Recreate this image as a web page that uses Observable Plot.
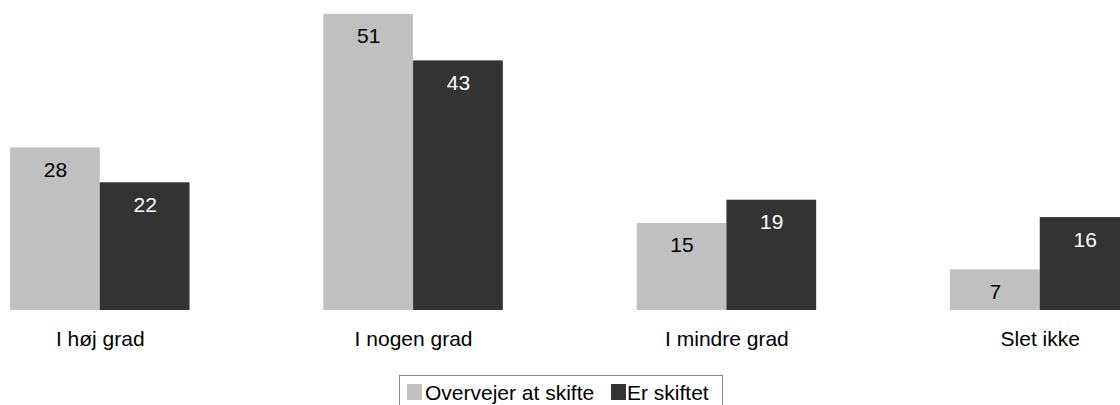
<!DOCTYPE html>
<html>
<head>
<meta charset="utf-8">
<script src="https://cdn.jsdelivr.net/npm/d3@7"></script>
<script src="https://cdn.jsdelivr.net/npm/@observablehq/plot@0.6"></script>
<style>
  html, body { margin: 0; padding: 0; background: #fff; overflow: hidden; width: 1120px; height: 405px; }
  #wrap { position: relative; width: 1120px; height: 405px; font-family: "Liberation Sans", Arial, sans-serif; }
  #legend { position: absolute; left: 399px; top: 375px; width: 324px; height: 40px; border: 1px solid #888; box-sizing: border-box; }
  .sw { position: absolute; width: 15px; height: 16px; top: 8px; }
  .lt { position: absolute; top: 6px; font-size: 21px; line-height: 21px; color: #000; white-space: nowrap; }
</style>
</head>
<body>
<div id="wrap"></div>
<script>
const categories = ["I høj grad", "I nogen grad", "I mindre grad", "Slet ikke"];
const series = ["Overvejer at skifte", "Er skiftet"];
const overvejer = [28, 51, 15, 7];
const skiftet = [22, 43, 19, 16];
const colors = ["#c0c0c0", "#333333"];
const textColors = ["#000000", "#ffffff"];

const data = [];
categories.forEach((c, i) => {
  data.push({category: c, series: series[0], value: overvejer[i]});
  data.push({category: c, series: series[1], value: skiftet[i]});
});

const chart = Plot.plot({
  width: 1120,
  height: 375,
  marginTop: 0,
  marginBottom: 65,
  marginLeft: 0,
  marginRight: 0,
  style: {fontFamily: "'Liberation Sans', Arial, sans-serif", fontSize: "21px", color: "#000", background: "transparent", overflow: "visible"},
  fx: {domain: categories, range: [0, 1139.5], paddingInner: 0.4271, paddingOuter: 0.0319, round: false, label: null},
  x: {domain: series, padding: 0, round: false, axis: null},
  y: {domain: [0, 53.4], axis: null},
  color: {domain: series, range: colors},
  marks: [
    Plot.barY(data, {fx: "category", x: "series", y: "value", fill: "series"}),
    ...series.map((s, k) => Plot.text(data.filter(d => d.series === s), {
      fx: "category", x: "series", y: "value", text: d => String(d.value),
      lineAnchor: "bottom", dy: 29, fill: textColors[k], fontSize: 21
    })),
    Plot.axisFx({anchor: "bottom", tickSize: 0, tickPadding: 21, fontSize: 21, label: null})
  ]
});
const wrap = document.getElementById("wrap");
wrap.appendChild(chart);

const legend = document.createElement("div");
legend.id = "legend";
const items = [
  {sw: 7, tx: 25},
  {sw: 211, tx: 227}
];
series.forEach((s, k) => {
  const sw = document.createElement("span");
  sw.className = "sw";
  sw.style.left = items[k].sw + "px";
  sw.style.background = colors[k];
  const lt = document.createElement("span");
  lt.className = "lt";
  lt.style.left = items[k].tx + "px";
  lt.textContent = s;
  legend.appendChild(sw);
  legend.appendChild(lt);
});
wrap.appendChild(legend);
</script>
</body>
</html>
